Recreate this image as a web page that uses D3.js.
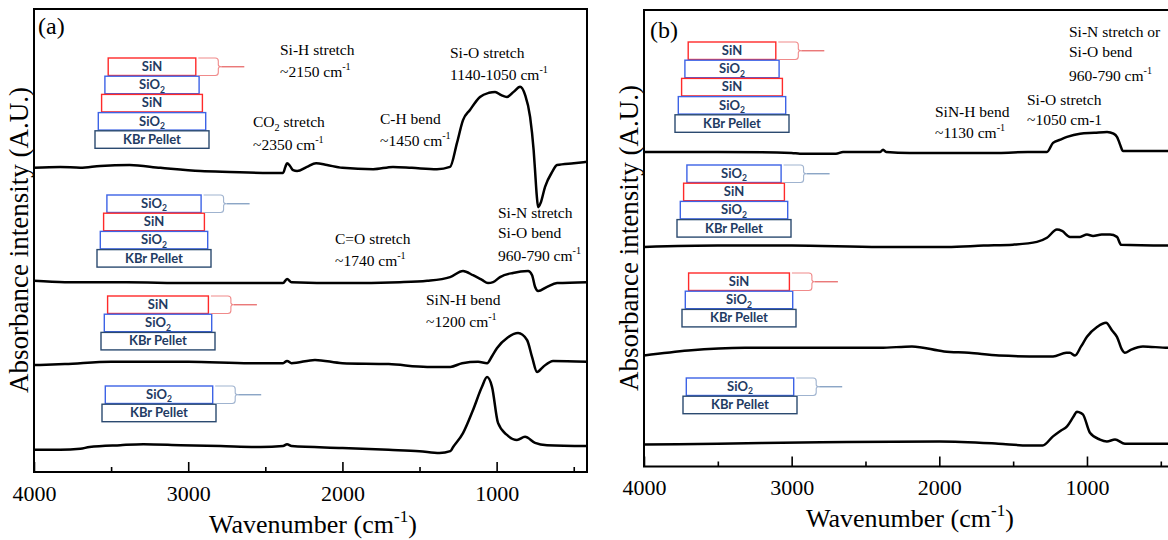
<!DOCTYPE html>
<html><head><meta charset="utf-8">
<script src="https://cdn.jsdelivr.net/npm/d3@7"></script>
<style>
html,body{margin:0;padding:0;background:#fff;}
svg{display:block;}
</style></head>
<body><svg id="chart" width="1168" height="540"></svg>
<script>
// ---------- DATA (wavenumber cm^-1, absorbance a.u. with stacking offset) ----------
const wnMajorTicks = [4000, 3000, 2000, 1000];
const wnMinorTicks = [3500, 2500, 1500, 500];
const tickLabels = ["4000", "3000", "2000", "1000"];
const panelNames = ["(a)", "(b)"];

// Panel (a)
const aSiN_SiO2_SiN_SiO2 = [[4000,65.7],[3830,65.9],[3700,65.7],[3570,66.1],[3380,66.3],[3180,65.7],[2920,65.0],[2730,64.8],[2470,64.6],[2385,64.6],[2370,65.9],[2359,66.7],[2340,66.1],[2320,65.2],[2294,65.0],[2230,65.9],[2171,66.7],[2100,66.3],[2000,65.7],[1800,65.4],[1672,65.9],[1550,65.7],[1387,65.4],[1302,65.9],[1257,71.1],[1218,76.0],[1173,78.2],[1108,81.0],[1050,81.9],[1010,82.1],[970,81.4],[933,81.0],[890,82.1],[848,83.2],[815,81.4],[783,76.7],[760,69.5],[751,65.2],[740,59.8],[731,57.2],[715,58.1],[686,61.6],[640,64.8],[608,66.3],[500,66.7],[414,67.0]];
const aSiO2_SiN_SiO2 = [[4000,41.3],[3800,41.0],[3400,41.0],[3000,40.8],[2500,40.8],[2385,40.8],[2359,41.7],[2330,41.0],[2000,40.8],[1627,41.0],[1450,41.3],[1302,42.1],[1218,43.4],[1153,42.5],[1095,41.5],[1056,40.8],[1023,41.0],[978,42.1],[894,43.0],[796,43.4],[770,42.5],[751,40.0],[731,39.1],[673,40.0],[608,40.8],[414,41.0]];
const aSiN_SiO2 = [[4000,23.1],[3800,23.3],[3500,23.8],[3000,23.8],[2600,23.5],[2385,23.5],[2359,24.0],[2330,23.5],[2178,24.2],[2000,23.5],[1700,23.3],[1450,22.7],[1300,22.7],[1224,23.5],[1120,23.8],[1062,23.5],[1030,25.0],[997,26.8],[930,29.0],[861,30.0],[803,28.5],[770,24.8],[738,21.6],[699,22.7],[634,24.0],[414,23.8]];
const aSiO2 = [[4000,4.8],[3830,4.8],[3700,5.0],[3640,5.4],[3440,5.8],[3290,6.0],[3050,5.8],[2790,5.6],[2530,5.4],[2385,5.6],[2359,6.0],[2330,5.6],[2000,5.2],[1700,4.8],[1500,4.5],[1370,4.1],[1300,4.5],[1282,5.4],[1218,8.4],[1153,13.4],[1095,18.4],[1062,20.5],[1030,18.4],[991,10.6],[933,8.0],[868,6.9],[816,7.6],[751,6.3],[673,5.8],[414,5.6]];

// Panel (b)
const bSiN_SiO2_SiN_SiO2 = [[4000,68.9],[3500,68.9],[3000,68.7],[2944,68.5],[2700,68.5],[2652,68.9],[2400,68.9],[2381,69.4],[2360,68.9],[2200,68.7],[1900,68.7],[1600,68.7],[1400,68.9],[1271,68.9],[1230,70.9],[1180,71.6],[1135,72.2],[1047,72.9],[950,73.1],[864,73.3],[820,72.9],[797,72.2],[770,70.0],[763,69.4],[756,69.1],[414,69.1]];
const bSiO2_SiN_SiO2 = [[4000,48.1],[3500,48.4],[3000,48.4],[2400,48.1],[1948,48.1],[1700,48.4],[1501,48.6],[1339,49.2],[1271,50.1],[1203,51.9],[1169,51.6],[1115,50.3],[1047,50.3],[1000,50.8],[959,50.5],[900,50.8],[844,50.8],[797,50.3],[775,48.8],[770,48.6],[414,48.4]];
const bSiN_SiO2 = [[4000,24.3],[3700,25.4],[3316,26.0],[2800,26.0],[2400,26.0],[2185,26.3],[1968,25.2],[1800,24.9],[1596,24.3],[1298,24.1],[1230,24.1],[1140,24.9],[1115,24.9],[1081,24.3],[1040,26.3],[1000,28.4],[930,30.6],[871,31.5],[830,29.8],[797,28.4],[763,25.6],[743,24.9],[700,25.6],[621,26.3],[451,26.0],[414,26.0]];
const bSiO2 = [[4000,4.8],[3500,5.0],[2800,5.3],[2000,5.5],[1600,5.0],[1400,4.6],[1300,4.6],[1230,6.6],[1180,7.8],[1135,8.8],[1090,11.0],[1068,12.0],[1040,11.7],[1027,11.4],[980,7.4],[912,5.9],[865,5.5],[810,5.9],[743,5.0],[414,5.0]];

// Film stacks shown as insets (top layer first)
const stack4 = ["SiN", "SiO2", "SiN", "SiO2", "KBr Pellet"];
const stack3 = ["SiO2", "SiN", "SiO2", "KBr Pellet"];
const stack2 = ["SiN", "SiO2", "KBr Pellet"];
const stack1 = ["SiO2", "KBr Pellet"];

// ---------- DRAWING ----------
const svg = d3.select("#chart");
const SERIF = '"Liberation Serif","Times New Roman",Times,serif';

const panels = [
  {name: panelNames[0], left: 34, right: 587, top: 9, bottom: 472,
   series: [aSiN_SiO2_SiN_SiO2, aSiO2_SiN_SiO2, aSiN_SiO2, aSiO2],
   insets: [{layers: stack4, kbrLeft: 95, top: 58}, {layers: stack3, kbrLeft: 97, top: 195},
            {layers: stack2, kbrLeft: 101, top: 296}, {layers: stack1, kbrLeft: 102, top: 386}],
   ylabel: {x: 28, y: 240}, xlabel: {x: 313, y: 533}, tickBase: 29, nameXY: [38, 34],
   notes: [
     [280, 55, ["Si-H stretch"]], [280, 77, ["~2150 cm", ["-1","sup"]]],
     [450, 58, ["Si-O stretch"]], [450, 80, ["1140-1050 cm", ["-1","sup"]]],
     [253, 127, ["CO", ["2","sub"], " stretch"]], [253, 150, ["~2350 cm", ["-1","sup"]]],
     [380, 124, ["C-H bend"]], [380, 146, ["~1450 cm", ["-1","sup"]]],
     [335, 244, ["C=O stretch"]], [335, 266, ["~1740 cm", ["-1","sup"]]],
     [498, 218, ["Si-N stretch"]], [498, 238, ["Si-O bend"]], [498, 261, ["960-790 cm", ["-1","sup"]]],
     [426, 305, ["SiN-H bend"]], [426, 327, ["~1200 cm", ["-1","sup"]]]
   ]},
  {name: panelNames[1], left: 644, right: 1173.5, top: 10, bottom: 466.5,
   series: [bSiN_SiO2_SiN_SiO2, bSiO2_SiN_SiO2, bSiN_SiO2, bSiO2],
   insets: [{layers: stack4, kbrLeft: 675, top: 42}, {layers: stack3, kbrLeft: 677, top: 165},
            {layers: stack2, kbrLeft: 682, top: 273}, {layers: stack1, kbrLeft: 683, top: 378}],
   ylabel: {x: 638, y: 238}, xlabel: {x: 910, y: 527}, tickBase: 28, nameXY: [650, 38],
   notes: [
     [1069, 37, ["Si-N stretch or"]], [1069, 57, ["Si-O bend"]], [1069, 81, ["960-790 cm", ["-1","sup"]]],
     [1027, 105, ["Si-O stretch"]], [1027, 125, ["~1050 cm-1"]],
     [935, 117, ["SiN-H bend"]], [935, 138, ["~1130 cm", ["-1","sup"]]]
   ]}
];

function richText(g, x, y, parts, size, family, weight, fill, anchor) {
  const t = g.append("text").attr("x", x).attr("y", y)
    .style("font-family", family).style("font-size", size + "px")
    .style("font-weight", weight || "normal").attr("fill", fill || "#000")
    .attr("text-anchor", anchor || "start");
  let shift = 0;
  parts.forEach(p => {
    const str = typeof p === "string" ? p : p[0];
    const kind = typeof p === "string" ? "n" : p[1];
    const target = kind === "sup" ? -0.42 * size : kind === "sub" ? 0.26 * size : 0;
    const ts = t.append("tspan").text(str).attr("dy", target - shift);
    if (kind !== "n") ts.style("font-size", (size * 0.66) + "px");
    shift = target;
  });
  return t;
}

const layerStyle = {
  "SiN": {stroke: "#ff2a2a", label: ["SiN"]},
  "SiO2": {stroke: "#3d63e6", label: ["SiO", ["2", "sub"]]},
  "KBr Pellet": {stroke: "#2b4a70", label: ["KBr Pellet"]}
};

function drawInset(g, inset) {
  const n = inset.layers.length;
  const boxH = 17.5, step = 18.2, kbrW = 114;
  let topRight = 0, topY = inset.top, topKind = inset.layers[0];
  inset.layers.forEach((kind, i) => {
    const k = n - 1 - i; // 0 = bottom (KBr)
    const left = inset.kbrLeft + 3.3 * k;
    const w = kbrW - 6.6 * k;
    const y0 = inset.top + i * step;
    if (i === 0) topRight = left + w;
    g.append("rect").attr("x", left).attr("y", y0).attr("width", w).attr("height", boxH)
      .attr("fill", "#fff").attr("stroke", layerStyle[kind].stroke).attr("stroke-width", 1.4);
    richText(g, left + w / 2, y0 + 13, layerStyle[kind].label, 13, "Lato,'Open Sans',sans-serif", 700, "#1f3b63", "middle");
  });
  // curly bracket pointing from top layer
  const x0 = topRight + 2.5, xb = x0 + 20, ym = topY + boxH / 2, y1 = topY + boxH;
  const col = topKind === "SiN" ? "#f08a8a" : "#9fb3cf";
  const tail = topKind === "SiN" ? "#e86a6a" : "#7f9cc0";
  g.append("path")
    .attr("d", `M${x0},${topY}H${xb - 3}Q${xb},${topY} ${xb},${topY + 3}V${ym - 2}Q${xb},${ym} ${xb + 3},${ym}` +
               `Q${xb},${ym} ${xb},${ym + 2}V${y1 - 3}Q${xb},${y1} ${xb - 3},${y1}H${x0}`)
    .attr("fill", "none").attr("stroke", col).attr("stroke-width", 1.1);
  g.append("line").attr("x1", xb + 3).attr("x2", xb + 26).attr("y1", ym).attr("y2", ym)
    .attr("stroke", tail).attr("stroke-width", 1.3);
}

panels.forEach(p => {
  const g = svg.append("g");
  const x = d3.scaleLinear().domain([4000, 414]).range([p.left, p.right]);
  const y = d3.scaleLinear().domain([0, 100]).range([p.bottom, p.top]);

  // major ticks (inward) with labels
  const ax = g.append("g").attr("transform", `translate(0,${p.bottom})`)
    .call(d3.axisBottom(x).tickValues(wnMajorTicks).tickSizeInner(-10).tickSizeOuter(0)
      .tickPadding(0).tickFormat((d, i) => tickLabels[i]));
  ax.select(".domain").remove();
  ax.selectAll(".tick line").attr("stroke", "#000").attr("stroke-width", 1.6);
  ax.selectAll(".tick text").attr("dy", null).attr("y", p.tickBase)
    .style("font-family", SERIF).style("font-size", "22px").attr("fill", "#000");
  const axm = g.append("g").attr("transform", `translate(0,${p.bottom})`)
    .call(d3.axisBottom(x).tickValues(wnMinorTicks).tickSizeInner(-5).tickSizeOuter(0).tickFormat(""));
  axm.select(".domain").remove();
  axm.selectAll(".tick line").attr("stroke", "#000").attr("stroke-width", 1.6);

  // frame
  g.append("rect").attr("x", p.left).attr("y", p.top)
    .attr("width", p.right - p.left).attr("height", p.bottom - p.top)
    .attr("fill", "none").attr("stroke", "#000").attr("stroke-width", 2);

  // spectra
  const line = d3.line().x(d => x(d[0])).y(d => y(d[1])).curve(d3.curveMonotoneX);
  g.selectAll("path.spec").data(p.series).join("path").attr("class", "spec")
    .attr("d", line).attr("fill", "none").attr("stroke", "#000")
    .attr("stroke-width", 2.5).attr("stroke-linejoin", "round");

  // insets
  p.insets.forEach(ins => drawInset(g, ins));

  // annotations
  p.notes.forEach(n => richText(g, n[0], n[1], n[2], 15.5, SERIF));

  // panel name
  g.append("text").attr("x", p.nameXY[0]).attr("y", p.nameXY[1]).text(p.name)
    .style("font-family", SERIF).style("font-size", "24px");

  // axis titles
  g.append("text").attr("transform", `translate(${p.ylabel.x},${p.ylabel.y}) rotate(-90)`)
    .attr("text-anchor", "middle").text("Absorbance intensity (A.U.)")
    .style("font-family", SERIF).style("font-size", "27px");
  richText(g, p.xlabel.x, p.xlabel.y, ["Wavenumber (cm", ["-1", "sup"], ")"], 26, SERIF, "normal", "#000", "middle");
});
</script>
</body></html>
